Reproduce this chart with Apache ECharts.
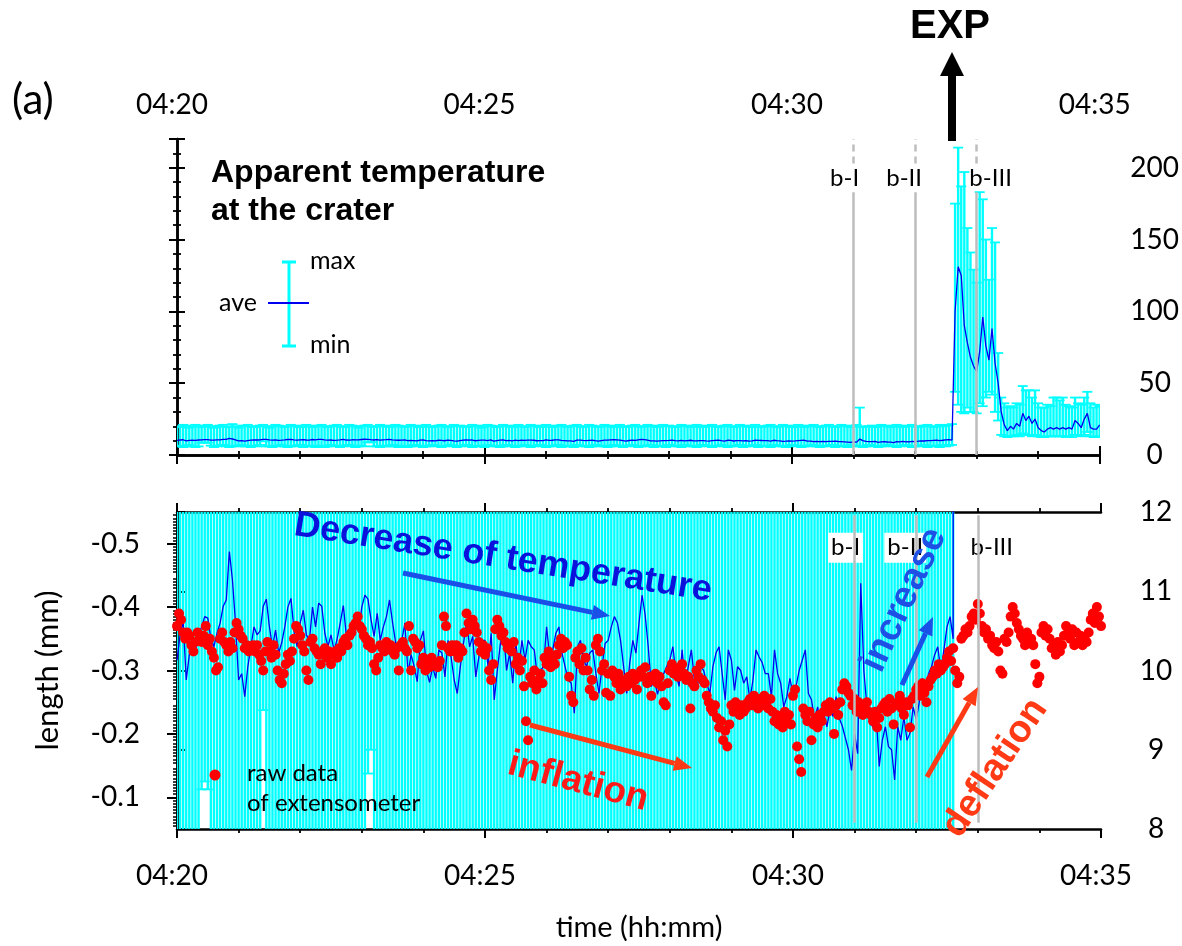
<!DOCTYPE html>
<html><head><meta charset="utf-8">
<script src="https://cdn.jsdelivr.net/npm/echarts@6/dist/echarts.min.js"></script>
<style>html,body{margin:0;padding:0;background:#fff}#c{width:1182px;height:946px}</style>
</head><body><div id="c"></div>
<script>
// ---- axis / tick labels ----
const xTickValues = [0, 300, 600, 900];               // seconds after 04:20:00
const xTickLabels = ['04:20', '04:25', '04:30', '04:35'];
const lengthTicks = [-0.5, -0.4, -0.3, -0.2, -0.1];
const lengthTickLabels = ['-0.5', '-0.4', '-0.3', '-0.2', '-0.1'];

// ---- events ----
const bTimes = [660, 720, 780];           // 04:31:00, 04:32:00, 04:33:00
const bNames = ['b-I', 'b-II', 'b-III'];
const expTime = 756;                       // 04:32:36

// ---- apparent temperature (deg C), one sample every 3 s from 04:20:00 ----
const tempStep = 3;
const tempAve = [
10.13,10.45,10.62,9.88,10.2,10.35,10.25,10.45,10.55,10.68,
10.66,10.4,10.3,10.47,10.6,10.81,10.89,11.5,11.14,10.6,
9.88,9.96,9.67,10.05,10.3,10.55,10.45,10.5,10.81,10.9,
10.55,10.3,10.51,10.22,10.35,10.55,10.8,10.91,10.5,10.3,
10.6,10.76,10.45,10.38,10.8,10.55,10.85,10.81,10.47,10.3,
10.45,10.25,10.4,10.6,10.82,10.43,10.38,10.6,10.55,10.51,
10.8,10.95,10.9,10.64,10.43,10.72,10.38,10.55,10.68,10.89,
10.6,10.35,10.26,10.38,10.6,
9.96,10.2,10.05,9.86,10.38,10.5,10.0,9.85,10.05,9.9,
10.26,10.22,9.92,10.38,10.17,9.88,9.71,10.05,10.34,10.6,
10.3,10.43,9.92,10.17,10.38,10.38,10.05,10.47,9.63,10.0,
10.34,10.51,10.0,10.22,9.84,10.34,10.05,10.38,10.13,10.38,
10.3,10.26,9.92,10.0,10.05,10.55,10.17,10.26,10.47,10.55,
10.22,10.05,9.88,9.84,9.46,10.3,10.38,10.13,10.05,10.22,
10.26,9.96,9.71,10.05,10.34,10.38,10.55,10.68,10.6,10.38,
10.05,9.71,10.1,10.38,10.22,
10.6,10.95,10.7,10.3,9.8,9.88,9.7,9.84,9.96,10.05,
10.13,10.3,9.96,9.8,10.26,9.84,10.05,10.26,9.88,9.82,
10.05,10.0,9.84,9.71,10.05,10.22,10.3,9.96,9.63,10.26,
10.13,9.75,10.05,10.0,9.84,9.92,9.63,9.88,10.26,10.17,
10.1,9.96,9.96,9.67,10.26,9.96,9.84,9.54,9.67,9.9,
9.7,9.8,10.0,10.13,10.26,9.71,9.63,9.38,9.54,9.29,
9.46,9.29,9.5,9.42,9.67,9.4,9.3,9.15,9.0,8.74,
9.2,8.95,11.1,10.0,9.54,
9.33,9.29,9.46,8.79,9.12,9.29,9.04,9.0,8.62,9.29,
9.12,9.42,9.12,9.21,9.54,9.38,9.6,9.9,9.75,9.96,
10.05,10.2,10.3,10.0,10.26,10.55,10.68,10.4,
100,131,125,90,78,68,62,58,72,96,
76,66,88,64,50,30,21,17,20,18,
22,20,29,24,27,22,25,19,17,16,
18,19,18,19,18,19,18,19,18,24,
22,19,25,29,19,18,18,21
];
const tempMax = [
20,19.5,21,20.5,19,20,21,20,19.5,20.5,21,20,19,20,20.5,21,19.5,20,21.5,20,19,20.5,20,
21,20,19.5,20,20.5,21,20,19,20,21,20.5,20,19.5,20,21,20,20.5,19.5,20,21,20,19.5,20.5,
20,21,20,19.5,20,20.5,21,20,19.5,20,21,20.5,20,19,20,20.5,21,20,19.5,20,21,20,20.5,
19.5,20,21,20.5,20,19.5,20,21,20,20.5,19.5,20,21,20,19.5,20,20.5,21,20,19.5,20,21,20,
20.5,20,19.5,20,21,20,20.5,19,20,21,20.5,20,19.5,20,21,20,20.5,19.5,20,21,20,19.5,20,
21,20,20.5,19.5,20,21,20,19.5,20.5,20,21,20,19.5,20,20.5,21,20,19.5,20,21,20.5,20,19.5,
20,21,20,20.5,19.5,20,21,20,19.5,20,20.5,21,20,19.5,20,21,20,20.5,19.5,20,21,20,20.5,
20,19.5,20,21,20,20.5,19.5,20,21,20,19.5,20.5,20,21,20,19.5,20,20.5,21,20,19.5,20,21,
20,20.5,19.5,20,21,20,19.5,20,20.5,21,20,19.5,20,21,20,20.5,19.5,20,21,20,19.5,20.5,20,
21,20,19.5,20,20.5,21,20,19.5,20,21,20,20.5,19.5,20,21,33,19.5,20,20,20.5,19.5,20,21,
20,20.5,19.5,20,21,20,19.5,20.5,20,21,20,19.5,20,20.5,21,20,19.5,20,21,20,20.5,21,21.5,
175,214,187,197,158,141,129,120,183,178,
150,122,158,148,71,40,36,33,34,33,
36,35,48,45,45,40,45,36,33,33,
35,34,40,40,38,40,35,34,33,40,
36,35,40,44,36,33,35,34
];
const tempMin = [
6,6.5,5.5,6,7,6,5.5,6,8.5,8.6,8.5,6.5,5.5,6,6.5,7,6,5.5,6,6.5,6,7,6,
6,5.5,6.5,6,7,9.5,6,6,5.5,6.5,6,7,6,5.5,6,6.5,6,7,5.5,6,6.5,6,5.5,
6.5,6,5.5,6,7,6,6.5,5.5,6,6.5,7,6,5.5,6,6.5,6,8.7,9,6,6,5.5,6.5,6,
6,7,6,5.5,6.5,6,5.5,6,7,6,6.5,5.5,6,6,7,6.5,6,5.5,6,6.5,7,6,5.5,
6,6.5,7,6,5.5,6,6.5,6,5.5,7,6,6.5,6,5.5,6,7,6,6.5,5.5,6,6,7,6.5,
5.5,6,6.5,7,6,5.5,6,6.5,6,7,5.5,6,6.5,6,5.5,7,6,6.5,6,5.5,6,7,6,
6.5,6,5.5,6,7,6,6.5,5.5,6,6.5,7,6,5.5,6,6.5,6,7,5.5,6,6.5,6,5.5,7,
6,6.5,6,5.5,7,6,6.5,6,5.5,6,7,6.5,6,5.5,6,6.5,7,6,5.5,6,6.5,6,7,
5.5,6,6.5,6,7,5.5,6,6.5,6,5.5,7,6,6.5,6,5.5,6,7,6.5,6,5.5,6,6.5,6,
7,6,5.5,6,6.5,6,7,5.5,6,6.5,6,5.5,7,6,6.5,6,5.5,6,7,6,6.5,5.5,6,
6,7,6.5,6,5.5,6,6.5,7,6,5.5,6,6.5,6,7,5.5,6,6.5,6,5.5,7,6,6.5,7,
44,35,30,29,33,30,30,29,36,34,
40,44,42,30,24,14,13,12.5,13,13,
14,13,15,14,14,13,14,13,12.5,12.5,
13,13,13,13,13,13,12.5,13,12.5,14,
14,13,14,16,13,12.5,12.5,13
];

// ---- extensometer raw data (mm), one sample every 2 s from 04:20:00 ----
const extStep = 2;
const extLength = [
-0.37,-0.39,-0.38,-0.36,-0.35,-0.36,-0.355,-0.34,-0.33,-0.345,
-0.36,-0.35,-0.345,-0.355,-0.37,-0.34,-0.35,-0.33,-0.32,-0.30,-0.305,
-0.35,-0.36,-0.345,-0.34,-0.33,-0.345,-0.335,-0.36,-0.375,-0.365,-0.355,-0.35,
-0.335,-0.34,-0.33,-0.335,-0.34,-0.33,-0.34,-0.325,-0.315,-0.30,-0.33,
-0.345,-0.33,-0.32,-0.34,-0.325,-0.30,-0.285,-0.28,-0.295,-0.31,
-0.325,-0.315,-0.33,-0.35,-0.37,-0.365,-0.355,-0.34,-0.33,-0.30,-0.285,
-0.345,-0.35,-0.335,
-0.33,-0.325,-0.31,-0.33,-0.335,-0.32,-0.33,-0.31,-0.325,-0.33,-0.32,-0.335,-0.33,
-0.345,-0.35,-0.34,-0.355,-0.36,-0.37,-0.375,-0.385,-0.37,-0.365,
-0.355,-0.35,-0.34,-0.345,-0.335,-0.31,-0.30,-0.32,
-0.34,-0.335,-0.33,-0.345,-0.335,-0.34,-0.33,-0.325,-0.335,-0.30,-0.34,-0.345,-0.335,-0.33,
-0.37,-0.30,-0.35,-0.345,-0.335,-0.34,
-0.31,-0.32,-0.30,-0.315,-0.305,-0.32,-0.31,-0.31,-0.305,-0.315,
-0.34,-0.385,-0.37,-0.335,-0.33,-0.34,-0.33,-0.34,-0.32,-0.335,-0.33,
-0.36,-0.39,-0.375,-0.365,-0.38,-0.37,-0.36,-0.345,-0.33,-0.34,-0.325,-0.335,
-0.30,-0.285,-0.31,-0.365,-0.38,-0.37,-0.355,-0.36,
-0.345,-0.335,-0.34,-0.33,-0.345,-0.31,-0.32,-0.30,-0.315,-0.275,-0.22,-0.19,
-0.29,-0.28,-0.30,-0.27,-0.285,-0.295,-0.28,
-0.32,-0.31,-0.33,-0.305,-0.32,-0.31,-0.325,-0.34,-0.35,-0.335,-0.345,-0.34,
-0.29,-0.26,-0.25,-0.32,-0.33,-0.31,-0.335,-0.30,-0.32,
-0.30,-0.27,-0.285,-0.26,-0.34,-0.35,-0.33,
-0.30,-0.31,-0.265,-0.295,-0.26,-0.30,
-0.29,-0.28,-0.295,-0.27,-0.285,-0.28,-0.275,-0.29,-0.28,-0.295,-0.285,-0.27,-0.29,
-0.30,-0.29,-0.305,-0.28,-0.29,-0.26,-0.285,-0.295,
-0.28,-0.29,-0.275,-0.25,-0.245,-0.28,
-0.30,-0.31,-0.295,-0.30,-0.29,-0.305,-0.31,-0.295,
-0.285,-0.29,-0.24,-0.28,-0.275,-0.30,-0.29,-0.31,-0.285,-0.28,
-0.26,-0.25,-0.24,-0.235,-0.245,
-0.225,-0.21,-0.22,-0.19,-0.205,-0.18,-0.215,
-0.245,-0.235,-0.25,-0.24,-0.23,-0.245,-0.235,-0.24,-0.25,
-0.255,-0.245,-0.26,-0.25,-0.24,-0.255,-0.245,-0.26,-0.25,-0.24,-0.255,
-0.235,-0.22,-0.23,-0.215,-0.225,-0.21,-0.235,-0.22,-0.23,-0.215,
-0.26,-0.27,-0.18,-0.16,-0.14,-0.24,
-0.23,-0.22,-0.235,-0.19,-0.215,-0.225,-0.21,-0.23,-0.22,-0.235,
-0.245,-0.235,-0.25,-0.24,-0.20,-0.245,-0.23,-0.25,
-0.27,-0.28,-0.275,-0.265,-0.26,
-0.245,-0.255,-0.235,-0.25,-0.24,-0.23,-0.245,-0.25,-0.235,
-0.23,-0.22,-0.235,-0.21,-0.225,-0.24,
-0.245,-0.25,-0.235,-0.255,-0.24,-0.215,-0.245,-0.25,-0.26,-0.24,-0.23,-0.25,-0.245,-0.21,-0.255,
-0.26,-0.27,-0.275,-0.26,-0.28,-0.265,-0.25,-0.275,
-0.285,-0.29,-0.30,-0.295,-0.31,-0.30,-0.305,-0.31,
-0.32,-0.33,-0.315,-0.335,-0.30,-0.28,-0.29,
-0.35,-0.355,-0.365,-0.36,-0.37,-0.385,-0.39,-0.38,-0.405,
-0.39,-0.37,-0.36,-0.365,-0.35,-0.355,
-0.34,-0.335,-0.345,-0.33,-0.30,-0.295,-0.35,-0.345,-0.36,
-0.385,-0.40,-0.39,-0.375,-0.365,
-0.355,-0.35,-0.34,-0.36,-0.345,-0.35,-0.34,-0.31,-0.28,-0.29,
-0.36,-0.37,-0.355,-0.365,-0.35,
-0.335,-0.34,-0.325,-0.345,-0.33,-0.34,
-0.355,-0.37,-0.36,-0.35,-0.365,-0.34,-0.36,
-0.345,-0.355,-0.34,-0.35,-0.345,-0.36,
-0.38,-0.39,-0.375,-0.40,-0.385,-0.37
];

// ---- build series data ----
const aveData = tempAve.map((v, i) => [i * tempStep, v]);
const errData = tempMax.map((v, i) => [i * tempStep, tempMin[i], v]);
const extData = extLength.map((v, i) => [i * extStep, v]);

const CYAN = '#00ffff';
const FONT = 'Lato';

function errItem(params, api) {
  const t = api.value(0);
  const lo = api.coord([t, api.value(1)]);
  const hi = api.coord([t, api.value(2)]);
  const cw = 5;
  return {
    type: 'group',
    children: [
      { type: 'line', shape: { x1: lo[0], y1: lo[1], x2: hi[0], y2: hi[1] }, style: { stroke: CYAN, lineWidth: 2.4 } },
      { type: 'line', shape: { x1: hi[0] - cw, y1: hi[1], x2: hi[0] + cw, y2: hi[1] }, style: { stroke: CYAN, lineWidth: 1.8 } },
      { type: 'line', shape: { x1: lo[0] - cw, y1: lo[1], x2: lo[0] + cw, y2: lo[1] }, style: { stroke: CYAN, lineWidth: 1.8 } }
    ]
  };
}

const axisLine = { show: true, lineStyle: { color: '#000', width: 2.5 } };
const fmtX = v => { const i = xTickValues.indexOf(Math.round(v)); return i >= 0 ? xTickLabels[i] : ''; };

function xAx(gridIndex, position, showLabel, extra) {
  return Object.assign({
    type: 'value', gridIndex, position, min: 0, max: 900, interval: 300,
    axisLine, splitLine: { show: false },
    axisTick: { show: true, length: 9, lineStyle: { color: '#000', width: 2 } },
    minorTick: { show: true, splitNumber: 5, length: 4, lineStyle: { color: '#000', width: 1.8 } },
    axisLabel: { show: showLabel, formatter: fmtX, color: '#000', fontFamily: FONT, fontSize: 28, padding: [0, 10, 0, 0] }
  }, extra || {});
}

const option = {
  animation: false,
  backgroundColor: '#fff',
  textStyle: { fontFamily: FONT },
  grid: [
    { left: 177, top: 139, width: 924, height: 316 },
    { left: 177, top: 512, width: 924, height: 317 }
  ],
  xAxis: [
    xAx(0, 'top', true, { axisLabel: { show: true, formatter: fmtX, color: '#000', fontFamily: FONT, fontSize: 28, margin: 20, padding: [0, 10, 0, 0] } }),
    xAx(0, 'bottom', false),
    xAx(1, 'bottom', true, {
      name: 'time (hh:mm)', nameLocation: 'middle', nameGap: 84,
      nameTextStyle: { color: '#000', fontFamily: FONT, fontSize: 29 },
      axisLabel: { show: true, formatter: fmtX, color: '#000', fontFamily: FONT, fontSize: 28, margin: 33, padding: [0, 10, 0, 0] }
    }),
    xAx(1, 'top', false)
  ],
  yAxis: [
    { // 0: temperature, top panel, right
      type: 'value', gridIndex: 0, position: 'right', min: 0, max: 220, interval: 50,
      axisLine, splitLine: { show: false },
      axisTick: { show: true, length: 8, lineStyle: { color: '#000', width: 2 } },
      minorTick: { show: true, splitNumber: 5, length: 4, lineStyle: { color: '#000', width: 1.8 } },
      axisLabel: { color: '#000', fontFamily: FONT, fontSize: 28, align: 'center', margin: 55, padding: [16, 0, 0, 0], showMaxLabel: false }
    },
    { // 1: temperature, top panel, left (ticks only)
      type: 'value', gridIndex: 0, position: 'left', min: 0, max: 220, interval: 50,
      axisLine, splitLine: { show: false },
      axisTick: { show: true, length: 8, lineStyle: { color: '#000', width: 2 } },
      minorTick: { show: true, splitNumber: 5, length: 4, lineStyle: { color: '#000', width: 1.8 } },
      axisLabel: { show: false }
    },
    { // 2: temperature zoom, bottom panel, right
      type: 'value', gridIndex: 1, position: 'right', min: 8, max: 12, interval: 1,
      axisLine, splitLine: { show: false },
      axisTick: { show: true, length: 8, lineStyle: { color: '#000', width: 2 } },
      minorTick: { show: true, splitNumber: 5, length: 4, lineStyle: { color: '#000', width: 1.8 } },
      axisLabel: { color: '#000', fontFamily: FONT, fontSize: 28, align: 'center', margin: 55, padding: [16, 0, 0, 0] }
    },
    { // 3: length, bottom panel, left
      type: 'value', gridIndex: 1, position: 'left', inverse: true, min: -0.55, max: -0.05, interval: 0.05,
      name: 'length (mm)', nameLocation: 'middle', nameGap: 114,
      nameTextStyle: { color: '#000', fontFamily: FONT, fontSize: 31 },
      axisLine, splitLine: { show: false },
      axisTick: { show: true, length: 10, customValues: lengthTicks, lineStyle: { color: '#000', width: 2 } },
      minorTick: { show: true, splitNumber: 10, length: 4, lineStyle: { color: '#000', width: 1.5 } },
      axisLabel: {
        customValues: lengthTicks, color: '#000', fontFamily: FONT, fontSize: 28, margin: 37, padding: [18, 0, 0, 0],
        formatter: v => { const i = lengthTicks.findIndex(x => Math.abs(x - v) < 1e-6); return i >= 0 ? lengthTickLabels[i] : ''; }
      }
    }
  ],
  series: [
    { // top error bars
      type: 'custom', xAxisIndex: 0, yAxisIndex: 0, renderItem: errItem, data: errData,
      encode: { x: 0, y: [1, 2] }, clip: true, z: 1, silent: true
    },
    { // top event lines + labels
      type: 'scatter', xAxisIndex: 0, yAxisIndex: 0, z: 2, symbolSize: 0, silent: true,
      itemStyle: { opacity: 1 },
      data: bTimes.map((t, i) => ({ value: [t, 193], name: bNames[i],
        label: { offset: [[-9, -11, 14][i], 0] } })),
      label: { show: true, position: 'inside', formatter: p => p.name, color: '#000', opacity: 1, fontFamily: FONT, fontSize: 24 },
      markLine: {
        silent: true, symbol: ['none', 'none'], label: { show: false },
        lineStyle: { color: '#bdbdbd', width: 2.5, type: 'solid', opacity: 1 },
        data: [].concat(...bTimes.map(t => [
          [{ coord: [t, 0] }, { coord: [t, 183] }],
          [{ coord: [t, 203], lineStyle: { type: [7, 5], color: '#bdbdbd', width: 2.5 } }, { coord: [t, 220] }]
        ]))
      }
    },
    { // top average line
      type: 'line', xAxisIndex: 0, yAxisIndex: 0, data: aveData, showSymbol: false, z: 3,
      lineStyle: { color: '#0000f0', width: 1.3 }, silent: true
    },
    { // bottom error bars (zoomed)
      type: 'custom', xAxisIndex: 2, yAxisIndex: 2, renderItem: errItem, data: errData,
      encode: { x: 0, y: [1, 2] }, clip: true, z: 1, silent: true
    },
    { // bottom event lines + labels
      type: 'scatter', xAxisIndex: 2, yAxisIndex: 2, z: 2, symbolSize: 0, silent: true,
      itemStyle: { opacity: 1 },
      data: bTimes.map((t, i) => ({ value: [t, 11.55], name: bNames[i],
        label: { offset: [[-9, -11, 14][i], 0] } })),
      label: { show: true, position: 'inside', formatter: p => p.name, color: '#000', opacity: 1, fontFamily: FONT, fontSize: 24,
        backgroundColor: '#ffffff', padding: [3, 3, 3, 3] },
      markLine: {
        silent: true, symbol: ['none', 'none'], label: { show: false },
        lineStyle: { color: '#bdbdbd', width: 2.5, type: 'solid', opacity: 1 },
        data: bTimes.map(t => [{ coord: [t, 8.08] }, { coord: [t, 11.96] }])
      }
    },
    { // bottom average line (zoomed)
      type: 'line', xAxisIndex: 2, yAxisIndex: 2, data: aveData, showSymbol: false, z: 3, clip: true,
      lineStyle: { color: '#0000f0', width: 1.3 }, silent: true
    },
    { // extensometer
      type: 'scatter', xAxisIndex: 2, yAxisIndex: 3, data: extData, symbolSize: 10, z: 4, silent: true,
      itemStyle: { color: '#ff0000', opacity: 1 }
    }
  ]
};

const chart = echarts.init(document.getElementById('c'), null, { renderer: 'canvas' });
chart.setOption(option);

// ---- annotations ----
function arrow(x1, y1, x2, y2, color, w, hl, hw) {
  const a = Math.atan2(y2 - y1, x2 - x1);
  const bx = x2 - hl * Math.cos(a), by = y2 - hl * Math.sin(a);
  const px = -Math.sin(a), py = Math.cos(a);
  return [
    { type: 'line', z: 50, shape: { x1, y1, x2: bx, y2: by }, style: { stroke: color, lineWidth: w } },
    { type: 'polygon', z: 50, shape: { points: [[x2, y2], [bx + px * hw / 2, by + py * hw / 2], [bx - px * hw / 2, by - py * hw / 2]] }, style: { fill: color } }
  ];
}
function txt(x, y, text, font, color, align, rotDeg) {
  return { type: 'text', z: 51, x, y, rotation: (rotDeg || 0) * Math.PI / 180,
    style: { text, font, fill: color, align: align || 'center', verticalAlign: 'middle' } };
}
const expX = chart.convertToPixel({ xAxisIndex: 0 }, expTime);
const BOLD = '"Liberation Sans", Arial, sans-serif';
const g = [].concat(
  [txt(12, 100, '(a)', '42px ' + FONT, '#000', 'left')],
  [txt(950, 27, 'EXP', 'bold 40px ' + BOLD, '#000')],
  [{ type: 'rect', z: 50, shape: { x: expX - 4, y: 74, width: 8, height: 67 }, style: { fill: '#000' } },
   { type: 'polygon', z: 50, shape: { points: [[expX, 52], [expX - 12, 76], [expX + 12, 76]] }, style: { fill: '#000' } }],
  [txt(211, 173, 'Apparent temperature', 'bold 32px ' + BOLD, '#000', 'left'),
   txt(211, 211, 'at the crater', 'bold 32px ' + BOLD, '#000', 'left')],
  // error-bar legend
  [{ type: 'line', z: 50, shape: { x1: 289, y1: 262, x2: 289, y2: 346 }, style: { stroke: CYAN, lineWidth: 3 } },
   { type: 'line', z: 50, shape: { x1: 282, y1: 262, x2: 296, y2: 262 }, style: { stroke: CYAN, lineWidth: 3 } },
   { type: 'line', z: 50, shape: { x1: 282, y1: 346, x2: 296, y2: 346 }, style: { stroke: CYAN, lineWidth: 3 } },
   { type: 'line', z: 51, shape: { x1: 268, y1: 303, x2: 309, y2: 303 }, style: { stroke: '#0000f0', lineWidth: 2 } },
   txt(310, 261, 'max', '25px ' + FONT, '#000', 'left'),
   txt(257, 303, 'ave', '25px ' + FONT, '#000', 'right'),
   txt(310, 345, 'min', '25px ' + FONT, '#000', 'left')],
  // extensometer legend
  [{ type: 'circle', z: 50, shape: { cx: 215, cy: 775, r: 5.5 }, style: { fill: '#ff0000' } },
   txt(247, 773, 'raw data', '24px ' + FONT, '#000', 'left'),
   txt(247, 803, 'of extensometer', '24px ' + FONT, '#000', 'left')],
  // annotations
  [txt(503, 558, 'Decrease of temperature', 'bold 36px ' + BOLD, '#0b12dc', 'center', -9)],
  arrow(403, 573, 610, 616, '#1a4fe8', 5, 18, 15),
  [txt(578, 782, 'inflation', 'bold 37px ' + BOLD, '#ff1a1a', 'center', -15)],
  arrow(530, 725, 692, 768, '#ff3a14', 5, 18, 15),
  [txt(904, 600, 'increase', 'bold 38px ' + BOLD, '#1f50e6', 'center', 65)],
  arrow(902, 685, 933, 617, '#1a4fe8', 5, 18, 15),
  [txt(995, 768, 'deflation', 'bold 38px ' + BOLD, '#ff3a14', 'center', 56)],
  arrow(927, 777, 978, 687, '#ff3a14', 5, 18, 15)
);
chart.setOption({ graphic: g });
</script></body></html>
